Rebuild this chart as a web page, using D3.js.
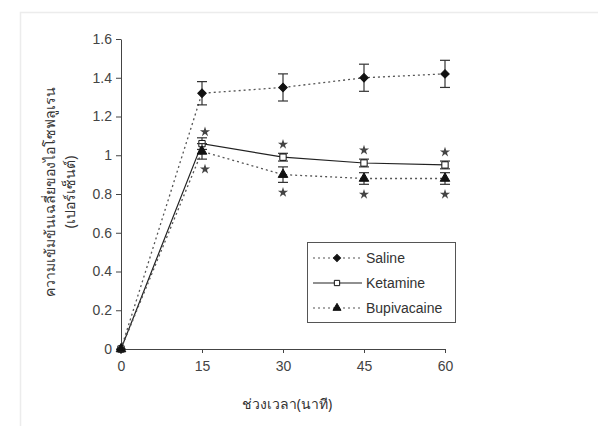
<!DOCTYPE html>
<html lang="th">
<head>
<meta charset="UTF-8">
<title>Isoflurane concentration</title>
<script src="https://d3js.org/d3.v7.min.js"></script>
<style>
    body { margin: 0; background: #fff; font-family: 'Liberation Sans', Arial, sans-serif; }
    .frame { fill: none; stroke: #ececec; stroke-width: 1.5; }
    .axis path, .axis line { stroke: #444; }
    .axis text { font-size: 14px; fill: #444; font-family: 'Liberation Sans', Arial, sans-serif; }
    .axis-label { font-size: 14px; fill: #333; font-family: 'Noto Sans', 'DejaVu Sans', sans-serif; }
    .legend text { font-size: 14px; fill: #333; }
</style>
</head>
<body>
<svg id="chart" width="598" height="426"></svg>
<script>
    // data
    const times = [0, 15, 30, 45, 60];
    const xTicks = [0, 15, 30, 45, 60];
    const yTicks = [0, 0.2, 0.4, 0.6, 0.8, 1, 1.2, 1.4, 1.6];

    const salineMean = [0, 1.32, 1.35, 1.40, 1.42];
    const salineErr  = [0, 0.06, 0.07, 0.07, 0.07];
    const ketamineMean = [0, 1.06, 0.99, 0.96, 0.95];
    const ketamineErr  = [0, 0.03, 0.02, 0.02, 0.02];
    const bupiMean = [0, 1.02, 0.90, 0.88, 0.88];
    const bupiErr  = [0, 0.04, 0.04, 0.03, 0.03];

    // significance marks (time points with * above ketamine and below bupivacaine)
    const starTimes = [15, 30, 45, 60];

    const series = [
        { name: "Saline", mean: salineMean, err: salineErr, dash: "2,3", symbol: d3.symbolSquare, rot: 45, fill: "#111", size: 36 },
        { name: "Ketamine", mean: ketamineMean, err: ketamineErr, dash: null, symbol: d3.symbolSquare, rot: 0, fill: "#fff", size: 40 },
        { name: "Bupivacaine", mean: bupiMean, err: bupiErr, dash: "2,3", symbol: d3.symbolTriangle, rot: 0, fill: "#111", size: 40 }
    ];

    const svg = d3.select("#chart");

    // light outer frame
    svg.append("rect").attr("class", "frame")
       .attr("x", 20.5).attr("y", 12.5).attr("width", 600).attr("height", 430);

    const x = d3.scaleLinear().domain([0, 60]).range([121, 445]);
    const y = d3.scaleLinear().domain([0, 1.6]).range([349, 39]);

    svg.append("g").attr("class", "axis")
       .attr("transform", "translate(0,349)")
       .call(d3.axisBottom(x).tickValues(xTicks).tickSize(4).tickSizeOuter(0).tickPadding(8));

    svg.append("g").attr("class", "axis")
       .attr("transform", "translate(121,0)")
       .call(d3.axisLeft(y).tickValues(yTicks).tickSize(5).tickSizeOuter(0).tickPadding(4)
             .tickFormat(d => d3.format("~g")(d)));

    const line = d3.line().x((d, i) => x(times[i])).y(d => y(d));

    series.forEach(s => {
        svg.append("path")
           .datum(s.mean)
           .attr("d", line)
           .attr("fill", "none")
           .attr("stroke", s.dash ? "#555" : "#222")
           .attr("stroke-width", s.dash ? 1.3 : 1.2)
           .attr("stroke-dasharray", s.dash);

        // error bars
        const eb = svg.append("g").attr("stroke", "#333").attr("stroke-width", 1.2);
        s.mean.forEach((m, i) => {
            if (s.err[i] === 0) return;
            const cx = x(times[i]);
            eb.append("line").attr("x1", cx).attr("x2", cx).attr("y1", y(m - s.err[i])).attr("y2", y(m + s.err[i]));
            eb.append("line").attr("x1", cx - 5).attr("x2", cx + 5).attr("y1", y(m - s.err[i])).attr("y2", y(m - s.err[i]));
            eb.append("line").attr("x1", cx - 5).attr("x2", cx + 5).attr("y1", y(m + s.err[i])).attr("y2", y(m + s.err[i]));
        });

        svg.append("g").selectAll("path")
           .data(s.mean)
           .join("path")
           .attr("transform", (d, i) => `translate(${x(times[i])},${y(d)}) rotate(${s.rot})`)
           .attr("d", d3.symbol().type(s.symbol).size(s.size))
           .attr("fill", s.fill)
           .attr("stroke", "#111")
           .attr("stroke-width", 1);
    });

    // stars
    const starIdx = starTimes.map(t => times.indexOf(t));
    const star = d3.symbol().type(d3.symbolStar).size(32);
    svg.append("g").selectAll("path.up")
       .data(starIdx).join("path")
       .attr("transform", i => `translate(${x(times[i]) + (i === 1 ? 3 : 0)},${y(ketamineMean[i] + ketamineErr[i]) - (i === 1 ? 6 : 9)})`)
       .attr("d", star).attr("fill", "#444");
    svg.append("g").selectAll("path.down")
       .data(starIdx).join("path")
       .attr("transform", i => `translate(${x(times[i]) + (i === 1 ? 3 : 0)},${y(bupiMean[i] - bupiErr[i]) + 10})`)
       .attr("d", star).attr("fill", "#444");

    // axis titles
    svg.append("text").attr("class", "axis-label")
       .attr("x", 287).attr("y", 409).attr("text-anchor", "middle")
       .text("ช่วงเวลา(นาที)");

    const yl = svg.append("text").attr("class", "axis-label")
       .attr("transform", "translate(55,192) rotate(-90)")
       .attr("text-anchor", "middle");
    yl.append("tspan").attr("x", 0).attr("dy", 0).text("ความเข้มข้นเฉลี่ยของไอโซฟลูเรน");
    yl.append("tspan").attr("x", 0).attr("dy", 20).text("(เปอร์เซ็นต์)");

    // legend
    const lg = svg.append("g").attr("class", "legend");
    lg.append("rect").attr("x", 307.5).attr("y", 242.5).attr("width", 148).attr("height", 80)
      .attr("fill", "#fff").attr("stroke", "#555");
    series.forEach((s, i) => {
        const ly = 258 + i * 25;
        lg.append("line").attr("x1", 313).attr("x2", 362).attr("y1", ly).attr("y2", ly)
          .attr("stroke", s.dash ? "#555" : "#222").attr("stroke-width", 1.2)
          .attr("stroke-dasharray", s.dash);
        lg.append("path").attr("transform", `translate(337,${ly}) rotate(${s.rot})`)
          .attr("d", d3.symbol().type(s.symbol).size(s.size * 0.7))
          .attr("fill", s.fill).attr("stroke", "#111");
        lg.append("text").attr("x", 366).attr("y", ly + 5).text(s.name);
    });
</script>
</body>
</html>
